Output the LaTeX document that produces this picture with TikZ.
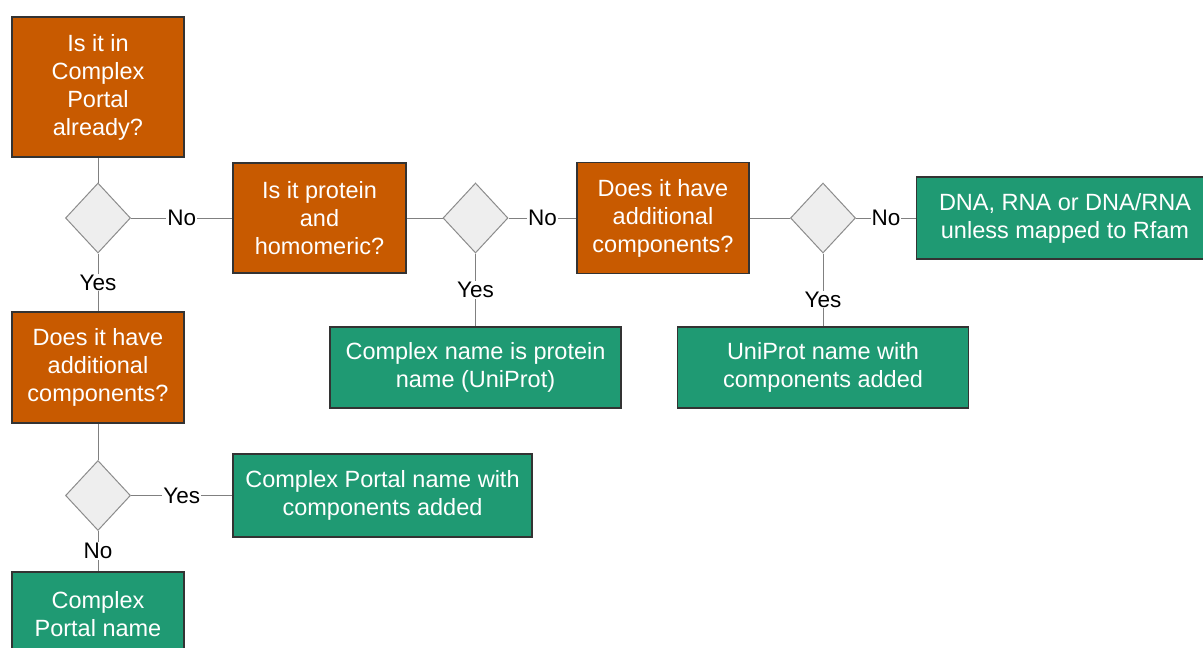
\documentclass[tikz,border=0pt]{standalone}
\usepackage{fontspec}
\setmainfont{Liberation Sans}
\usetikzlibrary{shapes.geometric}
\definecolor{qorange}{HTML}{C85A00}
\definecolor{agreen}{HTML}{1F9A73}
\definecolor{dgray}{HTML}{EEEEEE}
\tikzset{q/.append style={draw=black!80,line width=1.2pt,fill=qorange,text=white,align=center,minimum width=172pt,minimum height=111pt,inner sep=0pt,font=\fontsize{23.5}{28}\selectfont}}
\tikzset{ans/.append style={draw=black!80,line width=1.2pt,fill=agreen,text=white,align=center,minimum width=291pt,minimum height=81pt,inner sep=0pt,font=\fontsize{23.5}{28}\selectfont}}
\tikzset{dm/.append style={diamond,draw=black!45,line width=1pt,fill=dgray,minimum width=65pt,minimum height=70pt,inner sep=0pt}}
\tikzset{lb/.append style={fill=white,inner sep=1pt,font=\fontsize{22.5}{24}\selectfont}}

\begin{document}
\begin{tikzpicture}[x=1pt,y=-1pt,every edge/.style={draw=black!50,line width=1pt}]
                \useasboundingbox (0,0) rectangle (1203,648);
                % questions
                \node[q,minimum height=140pt] (q1) at (98,87) {Is it in\\Complex\\Portal\\already?};
                \node[q,minimum width=173pt,minimum height=110pt] (q2) at (319.5,218) {Is it protein\\and\\homomeric?};
                \node[q] (q3) at (663,218) {Does it have\\additional\\components?};
                \node[q] (q4) at (98,367.5) {Does it have\\additional\\components?};
                % decisions
                \node[dm] (d1) at (98,218) {};
                \node[dm] (d2) at (475.5,218) {};
                \node[dm] (d3) at (823,218) {};
                \node[dm] (d4) at (98,495.5) {};
                % answers
                \node[ans,minimum width=297pt,minimum height=82pt] (a1) at (1065,218) {DNA, RNA or DNA/RNA\\unless mapped to Rfam};
                \node[ans] (a2) at (475.5,367.5) {Complex name is protein\\name (UniProt)};
                \node[ans] (a3) at (823,367.5) {UniProt name with\\components added};
                \node[ans,minimum width=299pt,minimum height=83pt] (a4) at (382.5,495.5) {Complex Portal name with\\components added};
                \node[ans,minimum width=172pt,minimum height=84pt] (a5) at (98,614) {Complex\\Portal name};
                % links
                \path (q1) edge (d1);
                \path (d1) edge node[lb]{No} (q2) edge node[lb]{Yes} (q4);
                \path (q2) edge (d2);
                \path (d2) edge node[lb]{No} (q3) edge node[lb]{Yes} (a2);
                \path (q3) edge (d3);
                \path (d3) edge node[lb]{No} (a1) edge node[lb,pos=0.63]{Yes} (a3);
                \path (q4) edge (d4);
                \path (d4) edge node[lb]{Yes} (a4) edge node[lb]{No} (a5);
            \end{tikzpicture}
\end{document}
